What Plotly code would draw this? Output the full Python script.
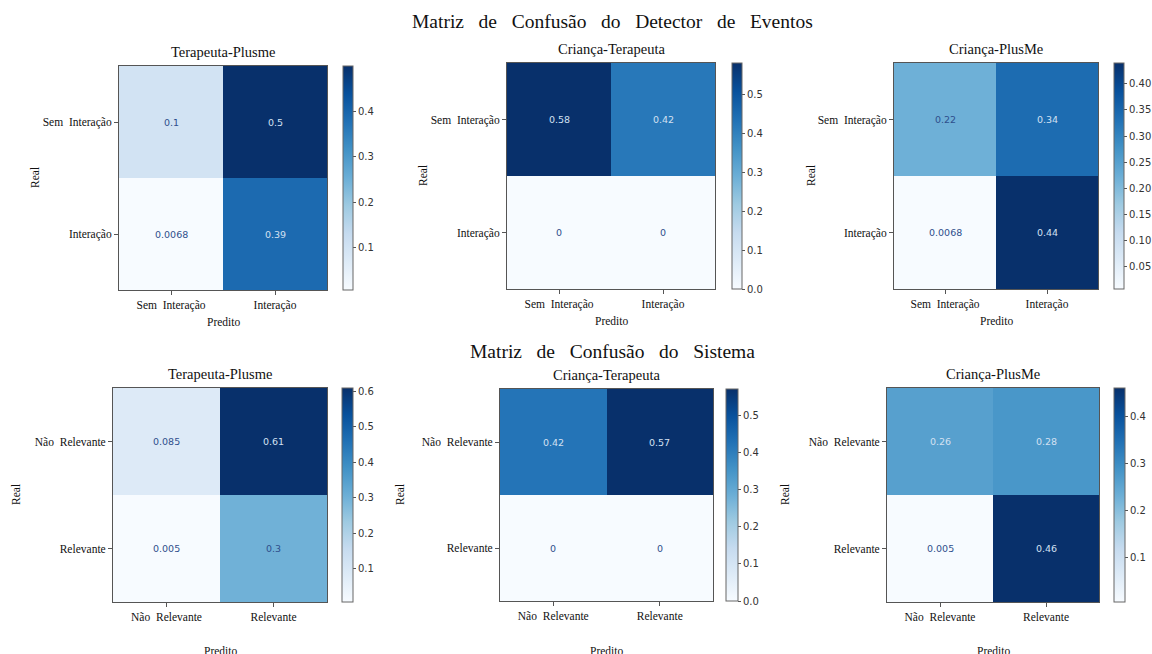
import plotly.graph_objects as go

# Confusion matrices (rows = real class, columns = predicted class), normalised values
evt_labels = ["Sem Interação", "Interação"]
sys_labels = ["Não Relevante", "Relevante"]

evt_terapeuta_plusme = [[0.1, 0.5], [0.0068, 0.39]]
evt_crianca_terapeuta = [[0.58, 0.42], [0.0, 0.0]]
evt_crianca_plusme = [[0.22, 0.34], [0.0068, 0.44]]

sys_terapeuta_plusme = [[0.085, 0.61], [0.005, 0.3]]
sys_crianca_terapeuta = [[0.42, 0.57], [0.0, 0.0]]
sys_crianca_plusme = [[0.26, 0.28], [0.005, 0.46]]

panel_titles = ["Terapeuta-Plusme", "Criança-Terapeuta", "Criança-PlusMe"]
row_titles = ["Matriz de Confusão do Detector de Eventos", "Matriz de Confusão do Sistema"]

cbar_ticks = [
    [0.1, 0.2, 0.3, 0.4],
    [0.0, 0.1, 0.2, 0.3, 0.4, 0.5],
    [0.05, 0.10, 0.15, 0.20, 0.25, 0.30, 0.35, 0.40],
    [0.1, 0.2, 0.3, 0.4, 0.5, 0.6],
    [0.0, 0.1, 0.2, 0.3, 0.4, 0.5],
    [0.1, 0.2, 0.3, 0.4],
]
cbar_fmt = ["{:.1f}", "{:.1f}", "{:.2f}", "{:.1f}", "{:.1f}", "{:.1f}"]

W, H = 1152, 654
SERIF = "Liberation Serif"
SANS = "DejaVu Sans"


def spaced(text, gap):
    # the serif labels use generous word spacing
    return text.replace(" ", gap)


# pixel boxes: heatmap (x0, x1, y0, y1) and colourbar (x0, x1)
panels = [
    dict(z=evt_terapeuta_plusme, labels=evt_labels, box=(119, 327, 66, 290), cb=(343, 353), real_x=35, pred_y=322, title=panel_titles[0]),
    dict(z=evt_crianca_terapeuta, labels=evt_labels, box=(507, 715, 63, 289), cb=(732, 742), real_x=423, pred_y=321, title=panel_titles[1]),
    dict(z=evt_crianca_plusme, labels=evt_labels, box=(894, 1098, 63, 289), cb=(1114, 1124), real_x=811, pred_y=321, title=panel_titles[2]),
    dict(z=sys_terapeuta_plusme, labels=sys_labels, box=(113, 327, 388, 602), cb=(342, 353), real_x=16, pred_y=651, title=panel_titles[0]),
    dict(z=sys_crianca_terapeuta, labels=sys_labels, box=(500, 713, 389, 601), cb=(726, 738), real_x=400, pred_y=651, title=panel_titles[1]),
    dict(z=sys_crianca_plusme, labels=sys_labels, box=(887, 1099, 388, 602), cb=(1114, 1125), real_x=785, pred_y=651, title=panel_titles[2]),
]


def px_x(v):
    return v / W


def px_y(v):
    return 1 - v / H


DARK_TXT = "#2f4f8c"
LIGHT_TXT = "#d3e0f2"
INK = "#111111"

fig = go.Figure()
annotations = []
layout_axes = {}

for i, p in enumerate(panels):
    n = i + 1
    xa = "x" if n == 1 else f"x{n}"
    ya = "y" if n == 1 else f"y{n}"
    x0, x1, y0, y1 = p["box"]
    z = p["z"]
    flat = [v for row in z for v in row]
    zmin, zmax = min(flat), max(flat)
    c0, c1 = p["cb"]
    ticks = cbar_ticks[i]

    fig.add_trace(go.Heatmap(
        z=z, x=[0, 1], y=[0, 1],
        xaxis=xa, yaxis=ya,
        colorscale="Blues", zmin=zmin, zmax=zmax,
        xgap=0, ygap=0, hoverinfo="z",
        colorbar=dict(
            x=px_x(c0), xanchor="left", xref="paper",
            y=px_y(y0), yanchor="top", yref="paper",
            len=(y1 - y0) / H, lenmode="fraction",
            thickness=c1 - c0, thicknessmode="pixels",
            outlinecolor="#666666", outlinewidth=1,
            ticks="outside", ticklen=3, tickcolor="#555555",
            tickvals=ticks, ticktext=[cbar_fmt[i].format(t) for t in ticks],
            tickfont=dict(family=SANS, size=10, color="#333333"),
            xpad=0, ypad=0,
        ),
    ))

    tick_text = [spaced(t, "\u00a0 ") for t in p["labels"]]
    axis_common = dict(
        tickvals=[0, 1], ticktext=tick_text, ticks="outside", ticklen=4,
        tickcolor="#555555", showline=True, linecolor="#555555", linewidth=1,
        mirror=True, showgrid=False, zeroline=False, fixedrange=True,
        tickfont=dict(family=SERIF, size=11.5, color=INK),
    )
    key_x = "xaxis" if n == 1 else f"xaxis{n}"
    key_y = "yaxis" if n == 1 else f"yaxis{n}"
    layout_axes[key_x] = dict(domain=[px_x(x0), px_x(x1)], anchor=ya, range=[-0.5, 1.5], **axis_common)
    layout_axes[key_y] = dict(domain=[px_y(y1), px_y(y0)], anchor=xa, range=[1.5, -0.5], **axis_common)

    # cell values, text colour flips at the middle of the colour range
    mid = (zmin + zmax) / 2
    for r in range(2):
        for c in range(2):
            v = z[r][c]
            annotations.append(dict(
                x=c, y=r, xref=xa, yref=ya, showarrow=False,
                xanchor="center", yanchor="middle",
                text=format(v, ".2g"),
                font=dict(family=SANS, size=9.5, color=LIGHT_TXT if v > mid else DARK_TXT),
            ))

    # panel title, axis titles
    annotations.append(dict(
        x=px_x((x0 + x1) / 2), y=px_y(y0 - 14), xref="paper", yref="paper",
        text=p["title"], showarrow=False, xanchor="center", yanchor="middle",
        font=dict(family=SERIF, size=14.5, color=INK),
    ))
    annotations.append(dict(
        x=px_x((x0 + x1) / 2), y=px_y(p["pred_y"]), xref="paper", yref="paper",
        text="Predito", showarrow=False, xanchor="center", yanchor="middle",
        font=dict(family=SERIF, size=11.5, color=INK),
    ))
    annotations.append(dict(
        x=px_x(p["real_x"]), y=px_y((y0 + y1) / 2), xref="paper", yref="paper",
        text="Real", showarrow=False, textangle=-90, xanchor="center", yanchor="middle",
        font=dict(family=SERIF, size=11.5, color=INK),
    ))

for title, ypx in zip(row_titles, [22, 352]):
    annotations.append(dict(
        x=px_x(612), y=px_y(ypx), xref="paper", yref="paper",
        text=spaced(title, "\u00a0\u00a0 "), showarrow=False,
        xanchor="center", yanchor="middle",
        font=dict(family=SERIF, size=19.5, color=INK),
    ))

fig.update_layout(
    width=W, height=H, margin=dict(l=0, r=0, t=0, b=0),
    paper_bgcolor="white", plot_bgcolor="white",
    annotations=annotations, showlegend=False,
    **layout_axes,
)

fig.write_html("out.html")
